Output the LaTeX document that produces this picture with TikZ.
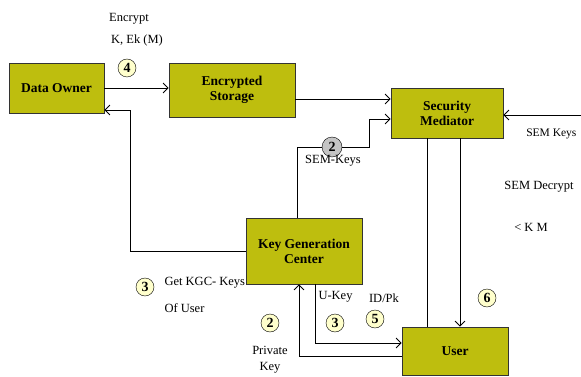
\documentclass[tikz,border=0pt]{standalone}
\usepackage{fontspec}
\setmainfont{Liberation Serif}[Ligatures=TeX]
\usetikzlibrary{arrows.meta}
\definecolor{olive}{RGB}{190,190,14}
\definecolor{jaunepale}{RGB}{255,255,204}
\definecolor{grisclair}{RGB}{196,196,196}
\begin{document}
\begin{tikzpicture}[x=1pt,y=-1pt]
	% Styles
	\tikzstyle{fleche}=[->,>={Straight Barb[length=5pt,width=10pt]},line width=0.8pt]
	\tikzstyle{trait}=[-,line width=0.8pt]
	\tikzstyle{boite}=[draw=black!80,fill=olive,line width=0.8pt,font=\rmfamily\fontsize{13.5}{15}\selectfont\bfseries,align=center]
	\tikzstyle{numero}=[draw,circle,fill=jaunepale,inner sep=0pt,minimum size=18pt,font=\rmfamily\fontsize{14}{15}\selectfont\bfseries]
	\tikzstyle{commentaire}=[black,font=\rmfamily\fontsize{12.5}{14}\selectfont]
	\useasboundingbox (0,0) rectangle (581,377);
	% Boites
	\node[boite,minimum width=95pt,minimum height=50pt] (owner) at (56.5,88) {Data Owner};
	\node[boite,minimum width=126pt,minimum height=54pt] (storage) at (232,90) {Encrypted\\Storage};
	\node[boite,minimum width=112pt,minimum height=50pt] (mediator) at (447,113) {Security\\Mediator};
	\node[boite,minimum width=116pt,minimum height=66pt] (kgc) at (304,251) {Key Generation\\Center};
	\node[boite,minimum width=106pt,minimum height=48pt] (user) at (455,351) {User};
	% Points de passage
	\coordinate (coude) at (369,147);
	\coordinate (coin) at (130,110);
	\coordinate (ms) at ([yshift=14pt]mediator.west);
	\coordinate (semk) at (581,115);
	% Arcs
	\draw[fleche] (owner.east) -- (owner.east -| storage.west);
	\draw[fleche] (storage.east |- ms) -- (ms);
	\draw[fleche] ([xshift=-7pt]kgc.north) |- (coude) |- ([yshift=-6pt]mediator.west);
	\draw[fleche] (kgc.west) -| (coin) -- (coin -| owner.east);
	\draw[fleche] (semk) -- (semk -| mediator.east);
	\draw[trait] ([xshift=-20pt]mediator.south) -- ([xshift=-20pt]mediator.south |- user.north);
	\draw[fleche] ([xshift=13pt]mediator.south) -- ([xshift=13pt]mediator.south |- user.north);
	\draw[fleche] ([xshift=11pt]kgc.south) |- ([yshift=8pt]user.west);
	\draw[fleche] ([yshift=-5pt]user.west) -| ([xshift=-5pt]kgc.south);
	% Numeros
	\node[numero] (n4) at (127,68) {4};
	\node[numero,fill=grisclair,minimum size=20pt] (n2g) at (332,147) {2};
	\node[numero] (n3a) at (145,287) {3};
	\node[numero] (n2) at (270,323) {2};
	\node[numero] (n3b) at (335,323) {3};
	\node[numero] (n5) at (375,319) {5};
	\node[numero] (n6) at (487,298) {6};
	% Commentaires
	\node[commentaire] (encrypt) at (129,19) {Encrypt};
	\node[commentaire] (kek) at (137,40) {K, Ek (M)};
	\node[commentaire] (semkeys) at (333,161) {SEM-Keys};
	\node[commentaire,anchor=east,font=\rmfamily\fontsize{11.5}{13}\selectfont] (semkeys2) at (580,134) {SEM Keys};
	\node[commentaire] (semdec) at (539,187) {SEM Decrypt};
	\node[commentaire] (km) at (531,227) {< K M};
	\node[commentaire,anchor=west] (getkgc) at (161,283) {Get KGC- Keys};
	\node[commentaire,anchor=west] (ofuser) at (161,308) {Of User};
	\node[commentaire,anchor=west] (ukey) at (315,297) {U-Key};
	\node[commentaire] (idpk) at (384,298) {ID/Pk};
	\node[commentaire] (private) at (270,350) {Private};
	\node[commentaire] (key) at (270,368) {Key};
\end{tikzpicture}
\end{document}
